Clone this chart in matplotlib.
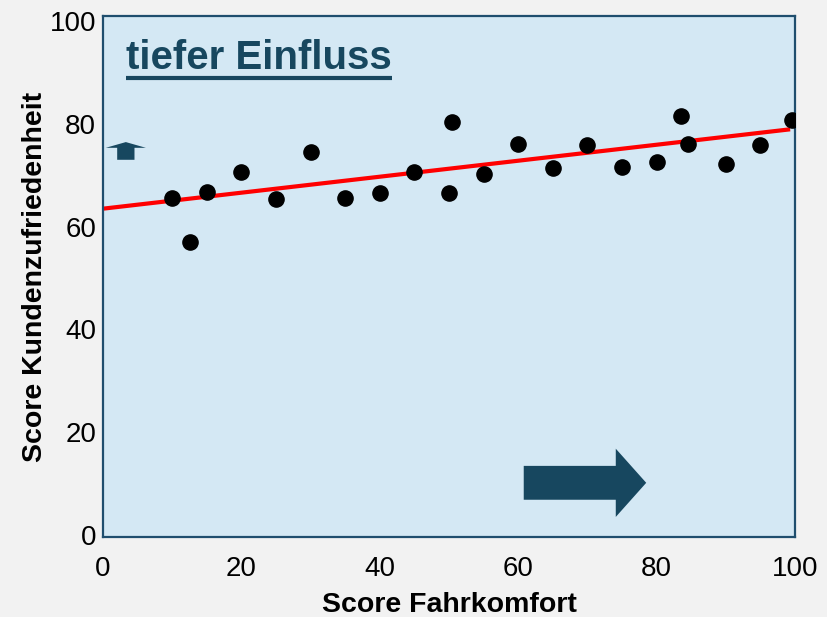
import matplotlib.pyplot as plt
import numpy as np
from matplotlib.patches import FancyArrow

plt.rcParams['font.family'] = ['Liberation Sans', 'DejaVu Sans']

# Data
fahrkomfort = [10, 12.5, 15, 20, 25, 30, 35, 40, 45, 50, 50.5, 55, 60, 65,
               70, 75, 80, 83.5, 84.5, 90, 95, 99.5]
zufriedenheit = [65.6, 57.0, 66.8, 70.6, 65.4, 74.6, 65.6, 66.5, 70.6, 66.5,
                 80.3, 70.3, 76.1, 71.5, 75.9, 71.7, 72.6, 81.5, 76.1, 72.2,
                 75.9, 80.7]
trend_x = [0, 99]
trend_y = [63.5, 78.9]
x_ticks = [0, 20, 40, 60, 80, 100]
y_ticks = [0, 20, 40, 60, 80, 100]

dark = '#17475F'

fig = plt.figure(figsize=(8.27, 6.17), dpi=100, facecolor='#F2F2F2')
ax = fig.add_axes([103 / 827, 1 - 537 / 617, 692 / 827, 521 / 617])
ax.set_facecolor('#D4E8F4')

# Trend line and scatter points
ax.plot(trend_x, trend_y, color='#FF0000', lw=3, zorder=2)
ax.scatter(fahrkomfort, zufriedenheit, s=120, color='black', zorder=3)

ax.set_xlim(0, 100)
ax.set_ylim(-0.4, 101)
ax.set_xticks(x_ticks)
ax.set_yticks(y_ticks)
ax.tick_params(length=0, labelsize=20)
ax.tick_params(axis='x', pad=14)
ax.tick_params(axis='y', pad=5)
for s in ax.spines.values():
    s.set_color('#1F4E6E')
    s.set_linewidth(1.6)

ax.set_xlabel('Score Fahrkomfort', fontsize=20.5, fontweight='bold', labelpad=7)
ax.set_ylabel('Score Kundenzufriedenheit', fontsize=20.5, fontweight='bold', labelpad=1)

# Underlined heading
title = ax.text(0.033, 0.92, 'tiefer Einfluss', transform=ax.transAxes,
                fontsize=29, fontweight='bold', color=dark, va='center', ha='left')
fig.canvas.draw()
bb = title.get_window_extent().transformed(ax.transAxes.inverted())
ax.plot([bb.x0, bb.x1], [bb.y0 - 0.002, bb.y0 - 0.002], transform=ax.transAxes,
        color=dark, lw=3, solid_capstyle='butt')

# Decorative arrows
ax.add_patch(FancyArrow(0.608, 0.104, 0.177, 0, width=0.065, head_width=0.131,
                        head_length=0.044, length_includes_head=True,
                        transform=ax.transAxes, color=dark, lw=0))
ax.add_patch(FancyArrow(0.033, 0.724, 0, 0.034, width=0.025, head_width=0.058,
                        head_length=0.011, length_includes_head=True,
                        transform=ax.transAxes, color=dark, lw=0))

fig.savefig('out.png', dpi=100, facecolor=fig.get_facecolor())
